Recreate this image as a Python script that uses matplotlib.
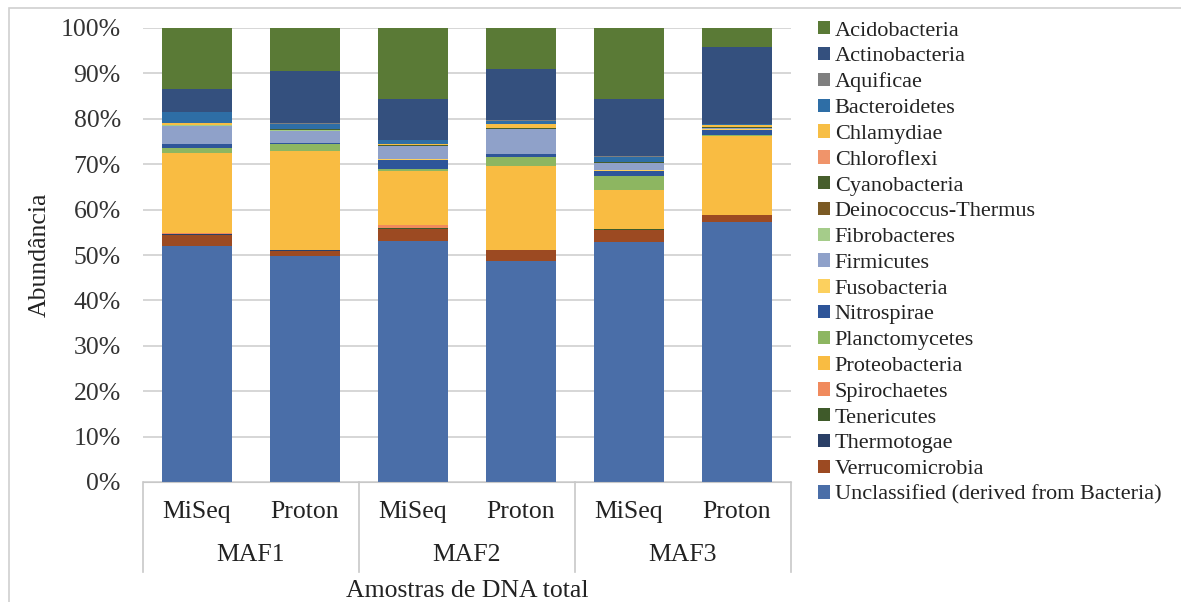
import numpy as np
import matplotlib
matplotlib.use('Agg')
import matplotlib.pyplot as plt
from matplotlib.patches import Rectangle, Patch
from matplotlib.lines import Line2D

plt.rcParams['font.family'] = ['Liberation Serif', 'DejaVu Serif']

samples = ['MiSeq', 'Proton', 'MiSeq', 'Proton', 'MiSeq', 'Proton']
groups = ['MAF1', 'MAF2', 'MAF3']

# stacking order, bottom to top (percent)
unclassified = [52.0, 49.8, 53.1, 48.7, 52.8, 57.2]
verrucomicrobia = [2.5, 1.1, 2.6, 2.4, 2.7, 1.6]
thermotogae = [0.1, 0.1, 0.1, 0.1, 0.1, 0.1]
tenericutes = [0.1, 0.0, 0.1, 0.0, 0.1, 0.0]
spirochaetes = [0.1, 0.0, 0.6, 0.0, 0.0, 0.0]
proteobacteria = [17.6, 21.9, 12.0, 18.3, 8.6, 17.4]
planctomycetes = [1.1, 1.5, 0.5, 2.0, 3.1, 0.1]
nitrospirae = [0.9, 0.2, 2.0, 0.7, 1.2, 1.1]
fusobacteria = [0.1, 0.1, 0.1, 0.1, 0.1, 0.2]
firmicutes = [4.0, 2.7, 2.9, 5.4, 1.5, 0.3]
fibrobacteres = [0.1, 0.2, 0.1, 0.1, 0.1, 0.0]
deinococcus = [0.0, 0.0, 0.0, 0.0, 0.0, 0.0]
cyanobacteria = [0.1, 0.1, 0.1, 0.1, 0.1, 0.1]
chloroflexi = [0.0, 0.0, 0.0, 0.0, 0.0, 0.0]
chlamydiae = [0.3, 0.1, 0.2, 0.9, 0.1, 0.5]
bacteroidetes = [2.6, 1.1, 0.9, 0.8, 1.0, 0.2]
aquificae = [0.0, 0.1, 0.0, 0.1, 0.3, 0.0]
actinobacteria = [4.9, 11.6, 9.1, 11.3, 12.6, 17.1]
acidobacteria = [13.5, 9.4, 15.6, 9.0, 15.6, 4.1]

series = [
    ('Unclassified (derived from Bacteria)', unclassified, '#4a6ea8'),
    ('Verrucomicrobia', verrucomicrobia, '#9c4a22'),
    ('Thermotogae', thermotogae, '#2a3f66'),
    ('Tenericutes', tenericutes, '#3f5a2a'),
    ('Spirochaetes', spirochaetes, '#f08a5d'),
    ('Proteobacteria', proteobacteria, '#f9bc42'),
    ('Planctomycetes', planctomycetes, '#8db661'),
    ('Nitrospirae', nitrospirae, '#2e5599'),
    ('Fusobacteria', fusobacteria, '#fcd05e'),
    ('Firmicutes', firmicutes, '#8fa1c9'),
    ('Fibrobacteres', fibrobacteres, '#a5cc8a'),
    ('Deinococcus-Thermus', deinococcus, '#7b5a24'),
    ('Cyanobacteria', cyanobacteria, '#475e2c'),
    ('Chloroflexi', chloroflexi, '#f0946a'),
    ('Chlamydiae', chlamydiae, '#f7be45'),
    ('Bacteroidetes', bacteroidetes, '#2e6ea6'),
    ('Aquificae', aquificae, '#7f7f7f'),
    ('Actinobacteria', actinobacteria, '#34507e'),
    ('Acidobacteria', acidobacteria, '#5a7a36'),
]

W, H = 1181, 602
fig = plt.figure(figsize=(W / 100, H / 100), dpi=100)
ax = fig.add_axes([143 / W, 1 - 482 / H, 648 / W, 454 / H])

x = np.arange(len(samples))
bottom = np.zeros(len(samples))
handles = []
for name, vals, col in series:
    ax.bar(x, vals, bottom=bottom, width=0.65, color=col, zorder=2)
    bottom += np.array(vals)
    handles.append(Patch(facecolor=col, label=name))

ax.set_xlim(-0.5, len(samples) - 0.5)
ax.set_ylim(0, 100)
ax.set_yticks(np.arange(0, 101, 10))
ax.set_yticklabels([f'{v}%' for v in range(0, 101, 10)], fontsize=18.5, color='#333333')
ax.tick_params(axis='y', length=0, pad=16)
ax.tick_params(axis='x', length=0, labelbottom=False)
ax.grid(axis='y', color='#d0d0d0', linewidth=1.2, zorder=0)
for s in ['top', 'right', 'left']:
    ax.spines[s].set_visible(False)
ax.spines['bottom'].set_color('#c8c8c8')

# multi-level category axis
for xi, lab in zip(x, samples):
    fig.text((143 + 108 * (xi + 0.5)) / W, 1 - 512 / H, lab, ha='center', va='center',
             fontsize=18.5, color='#222222')
for gi, g in enumerate(groups):
    fig.text((143 + 216 * (gi + 0.5)) / W, 1 - 555 / H, g, ha='center', va='center',
             fontsize=18.5, color='#222222')
for k in range(4):
    xp = (143 + 216 * k) / W
    fig.add_artist(Line2D([xp, xp], [1 - 482 / H, 1 - 572 / H], color='#c8c8c8', lw=1.2))

fig.text(467 / W, 1 - 591 / H, 'Amostras de DNA total', ha='center', va='center',
         fontsize=18.5, color='#222222')
fig.text(40 / W, 1 - 255 / H, 'Abundância', ha='center', va='center', rotation=90,
         fontsize=18.5, color='#222222')

# chart frame
fig.add_artist(Rectangle((9 / W, -0.1), 1.2, 1 - 8 / H + 0.1, transform=fig.transFigure,
                         fill=False, edgecolor='#d0d0d0', lw=1.2))

leg = fig.legend(handles=handles[::-1], loc='upper left', bbox_to_anchor=(818 / W, 1 - 21 / H),
                 frameon=False, fontsize=16, handlelength=0.55, handleheight=0.55,
                 handletextpad=0.2, labelspacing=0.28, borderaxespad=0, borderpad=0)
for t in leg.get_texts():
    t.set_color('#222222')

fig.savefig('out.png', dpi=100)
